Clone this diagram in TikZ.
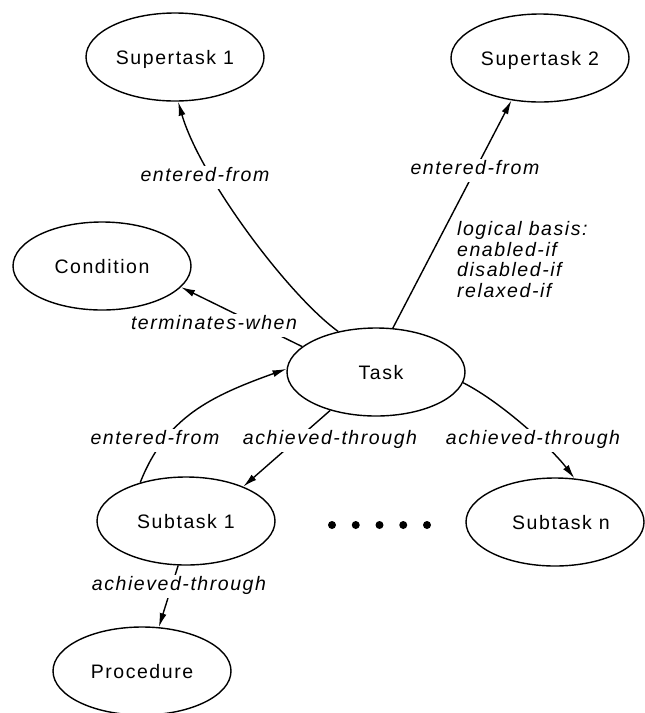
\documentclass[tikz,border=0pt]{standalone}
\usepackage{fontspec}
\setmainfont{Liberation Sans}
\newfontfamily\diagfont[LetterSpace=8]{Liberation Sans}
\usetikzlibrary{shapes.geometric,arrows.meta}
\begin{document}
\begin{tikzpicture}[x=1pt,y=-1pt,
  every node/.style={font=\diagfont\fontsize{19.5}{20.7}\selectfont},
  taskbox/.style={draw,ellipse,line width=1.4pt,minimum width=178pt,
    minimum height=88pt,inner sep=0pt,text height=14pt,text depth=0pt},
  rel/.style={font=\diagfont\itshape\fontsize{19.5}{20.7}\selectfont,
    fill=white,inner sep=2pt,text height=14pt,text depth=5pt},
  link/.style={line width=1.4pt,-{Latex[length=14pt,width=7pt]}},
  dotmark/.style={circle,fill,inner sep=0pt,minimum size=8pt}]
\useasboundingbox (0,0) rectangle (645,713);

% task hierarchy
\node[taskbox] (st1)  at (175,57)  {Supertask 1};
\node[taskbox] (st2)  at (540,58)  {Supertask 2};
\node[taskbox] (cond) at (102,266) {Condition\hspace{8pt}};
\node[taskbox] (task) at (376,372) {\hspace{10pt}Task};
\node[taskbox] (sub1) at (186,521) {Subtask 1};
\node[taskbox] (subn) at (555,522) {\hspace{12pt}Subtask n};
\node[taskbox] (proc) at (142,671) {Procedure};

% elided subtasks
\foreach \i in {0,...,4}
  \node[dotmark] (dot\i) at (332+23.75*\i,525) {};

% relations
\draw[link] (task.133) .. controls (288,295) and (200,177) .. (st1.-86);
\draw[link] (task.69) -- (st2.236);
\draw[link] (task.161) -- (cond.-15);
\draw[link] (sub1.140) .. controls (166,417) and (211,396) .. (task.178);
\draw[link] (task.220) -- (sub1.31);
\draw[link] (task.-7) .. controls (503,403) and (553,450) .. (subn.66);
\draw[link] (sub1.260) -- (proc.69);

% relation labels
\node[rel] (l1) at (205,177) {entered-from};
\node[rel] (l2) at (475,170) {entered-from};
\node[rel] (l3) at (214,325) {terminates-when};
\node[rel] (l4) at (155,440) {entered-from};
\node[rel] (l5) at (330,440) {achieved-through};
\node[rel] (l6) at (533,440) {achieved-through};
\node[rel] (l7) at (179,586) {achieved-through};
\node[font=\diagfont\itshape\fontsize{19.5}{20.7}\selectfont,
  align=left,inner sep=0pt,anchor=north west] (basis) at (457,221)
  {logical basis:\\enabled-if\\disabled-if\\relaxed-if};
\end{tikzpicture}
\end{document}
